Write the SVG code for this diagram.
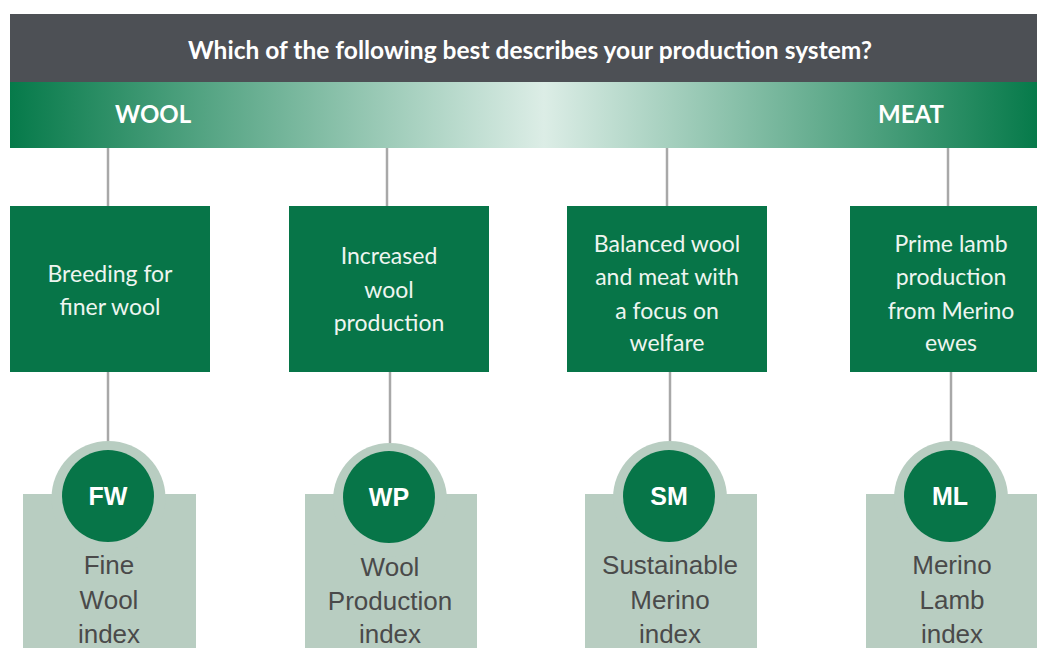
<svg xmlns="http://www.w3.org/2000/svg" width="1037" height="648" viewBox="0 0 1037 648">
<defs>
<linearGradient id="band" x1="0" y1="0" x2="1" y2="0">
<stop offset="0" stop-color="#067a4a"/>
<stop offset="0.52" stop-color="#dcede6"/>
<stop offset="1" stop-color="#067a4a"/>
</linearGradient>
<style>
.box{fill:#077548}
.btxt{font-family:Lato,"Open Sans",sans-serif;font-size:23px;fill:#eef5f0;text-anchor:middle}
.card{fill:#b8cdc1}
.circ{fill:#077548}
.abbr{font-family:"Liberation Sans",Arial,sans-serif;font-weight:bold;font-size:25px;fill:#fff;text-anchor:middle}
.ctxt{font-family:"Liberation Sans",Arial,sans-serif;font-size:26px;fill:#4a4a4a;text-anchor:middle}
.conn{stroke:#a8a8a8;stroke-width:2.5;fill:none}
.band{font-family:Lato,"Open Sans",sans-serif;font-weight:bold;font-size:24px;fill:#fff}
</style>
</defs>
<rect width="1037" height="648" fill="#fff"/>
<g id="header">
<rect x="10" y="14" width="1027" height="68" fill="#4d5055"/>
<text x="530" y="59" font-family="Lato, 'Open Sans', sans-serif" font-weight="bold" font-size="24" fill="#fff" text-anchor="middle" textLength="684" lengthAdjust="spacingAndGlyphs">Which of the following best describes your production system?</text>
</g>
<g id="band">
<rect x="10" y="82" width="1027" height="66" fill="url(#band)"/>
<text class="band" x="115" y="123">WOOL</text>
<text class="band" x="878" y="123">MEAT</text>
</g>
<g id="connectors">
<line class="conn" x1="108" y1="148" x2="108" y2="206"/>
<line class="conn" x1="387" y1="148" x2="387" y2="206"/>
<line class="conn" x1="667" y1="148" x2="667" y2="206"/>
<line class="conn" x1="948" y1="148" x2="948" y2="206"/>
<line class="conn" x1="108" y1="372" x2="108" y2="442"/>
<line class="conn" x1="390" y1="372" x2="390" y2="443"/>
<line class="conn" x1="670" y1="372" x2="670" y2="443"/>
<line class="conn" x1="951" y1="372" x2="951" y2="443"/>
</g>
<g id="node-fine">
<rect class="box" x="10" y="206" width="200" height="166"/>
<text class="btxt" x="110" y="282">Breeding for</text>
<text class="btxt" x="110" y="315">finer wool</text>
</g>
<g id="node-increased">
<rect class="box" x="289" y="206" width="200" height="166"/>
<text class="btxt" x="389" y="264">Increased</text>
<text class="btxt" x="389" y="298">wool</text>
<text class="btxt" x="389" y="331">production</text>
</g>
<g id="node-balanced">
<rect class="box" x="567" y="206" width="200" height="166"/>
<text class="btxt" x="667" y="252">Balanced wool</text>
<text class="btxt" x="667" y="285">and meat with</text>
<text class="btxt" x="667" y="319">a focus on</text>
<text class="btxt" x="667" y="351">welfare</text>
</g>
<g id="node-prime">
<rect class="box" x="850" y="206" width="187" height="166"/>
<text class="btxt" x="951" y="252">Prime lamb</text>
<text class="btxt" x="951" y="285">production</text>
<text class="btxt" x="951" y="319">from Merino</text>
<text class="btxt" x="951" y="351">ewes</text>
</g>
<g id="card-fw">
<rect class="card" x="23" y="494" width="173" height="154"/>
<circle class="card" cx="108.5" cy="498" r="57"/>
<circle class="circ" cx="108" cy="496" r="46"/>
<text class="abbr" x="108" y="505">FW</text>
<text class="ctxt" x="109" y="574">Fine</text>
<text class="ctxt" x="109" y="609">Wool</text>
<text class="ctxt" x="109" y="643">index</text>
</g>
<g id="card-wp">
<rect class="card" x="305" y="494" width="172" height="154"/>
<circle class="card" cx="390" cy="500" r="57"/>
<circle class="circ" cx="389" cy="497" r="46"/>
<text class="abbr" x="389" y="506">WP</text>
<text class="ctxt" x="390" y="576">Wool</text>
<text class="ctxt" x="390" y="610">Production</text>
<text class="ctxt" x="390" y="643">index</text>
</g>
<g id="card-sm">
<rect class="card" x="585" y="494" width="172" height="154"/>
<circle class="card" cx="670" cy="498" r="57"/>
<circle class="circ" cx="669" cy="496" r="46"/>
<text class="abbr" x="669" y="505">SM</text>
<text class="ctxt" x="670" y="574">Sustainable</text>
<text class="ctxt" x="670" y="609">Merino</text>
<text class="ctxt" x="670" y="643">index</text>
</g>
<g id="card-ml">
<rect class="card" x="866" y="494" width="171" height="154"/>
<circle class="card" cx="951" cy="498" r="57"/>
<circle class="circ" cx="950" cy="496" r="46"/>
<text class="abbr" x="950" y="505">ML</text>
<text class="ctxt" x="952" y="574">Merino</text>
<text class="ctxt" x="952" y="609">Lamb</text>
<text class="ctxt" x="952" y="643">index</text>
</g>
</svg>
